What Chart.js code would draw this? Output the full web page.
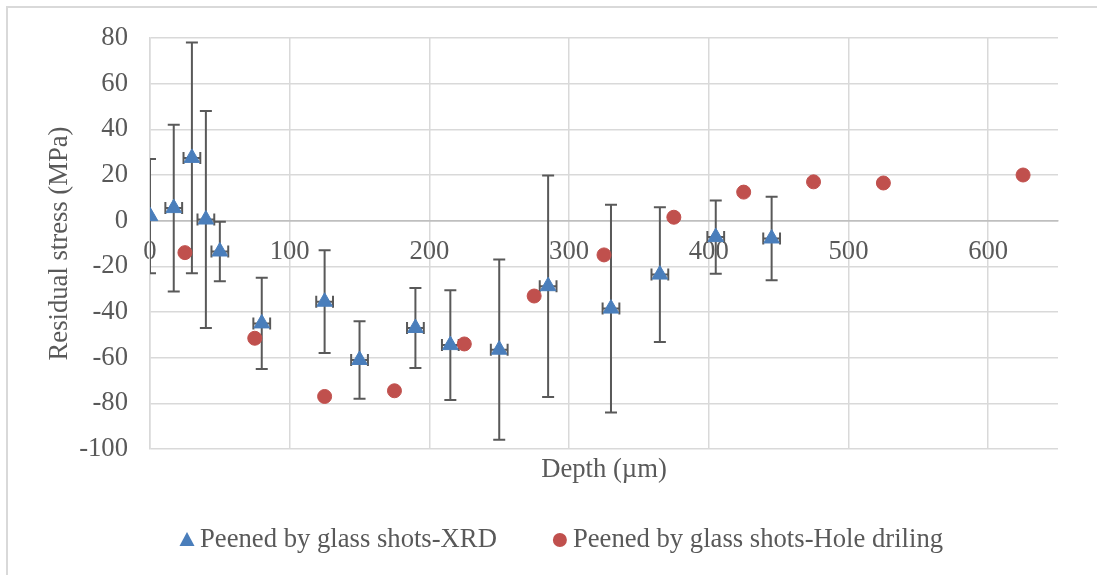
<!DOCTYPE html>
<html>
<head>
<meta charset="utf-8">
<script src="https://cdn.jsdelivr.net/npm/chart.js@4.4.1/dist/chart.umd.min.js"></script>
<style>
  body { margin: 0; background: #fff; }
  #frame {
    position: absolute; left: 6px; top: 6px; width: 1200px; height: 700px;
    border: 2px solid #d9d9d9; box-sizing: border-box;
  }
  #stressChart { position: absolute; left: 0; top: 0; }
</style>
</head>
<body>
<div id="frame"></div>
<canvas id="stressChart" width="1097" height="575"></canvas>
<script>
// XRD measurements (depth in µm, stress in MPa, +/- errors)
const depthXrd = [0, 17, 30, 40, 50, 80, 125, 150, 190, 215, 250, 285, 330, 365, 405, 445];
const stressXrd = [2, 5.5, 27.5, 0.5, -13.5, -45, -35.5, -61, -47, -54.5, -56.5, -28.7, -38.5, -23.6, -7.2, -7.8];
const stressErrXrd = [25, 36.5, 50.5, 47.5, 13, 20, 22.5, 17, 17.5, 24, 39.5, 48.5, 45.5, 29.5, 16, 18.3];
const depthErrXrd = [0, 6, 6, 6, 6, 6, 6, 6, 6, 6, 6, 6, 6, 6, 6, 6];

// hole drilling measurements
const depthHole = [25, 75, 125, 175, 225, 275, 325, 375, 425, 475, 525, 625];
const stressHole = [-14, -51.5, -77, -74.5, -54, -33, -15, 1.5, 12.5, 17, 16.5, 20];

const seriesNames = ["Peened by glass shots-XRD", "Peened by glass shots-Hole driling"];
const depthTicks = [0, 100, 200, 300, 400, 500, 600];

const textColor = "#595959";
const gridColor = "#d9d9d9";
const serif = "'Liberation Serif', 'Times New Roman', serif";
const fontSize = 26.67;

const toPoints = (xs, ys) => xs.map((x, i) => ({ x: x, y: ys[i] }));

// vertical and horizontal error bars for the XRD series
const errorBars = {
  id: "errorBars",
  beforeDatasetsDraw(chart) {
    const { ctx, chartArea, scales } = chart;
    const cap = 6;
    ctx.save();
    ctx.beginPath();
    ctx.rect(chartArea.left, chartArea.top, chartArea.right - chartArea.left, chartArea.bottom - chartArea.top);
    ctx.clip();
    ctx.strokeStyle = "#595959";
    ctx.lineWidth = 2;
    depthXrd.forEach((d, i) => {
      const px = scales.x.getPixelForValue(d);
      const py = scales.y.getPixelForValue(stressXrd[i]);
      const top = scales.y.getPixelForValue(stressXrd[i] + stressErrXrd[i]);
      const bottom = scales.y.getPixelForValue(stressXrd[i] - stressErrXrd[i]);
      ctx.beginPath();
      ctx.moveTo(px, top);
      ctx.lineTo(px, bottom);
      ctx.moveTo(px - cap, top);
      ctx.lineTo(px + cap, top);
      ctx.moveTo(px - cap, bottom);
      ctx.lineTo(px + cap, bottom);
      if (depthErrXrd[i] > 0) {
        const left = scales.x.getPixelForValue(d - depthErrXrd[i]);
        const right = scales.x.getPixelForValue(d + depthErrXrd[i]);
        ctx.moveTo(left, py);
        ctx.lineTo(right, py);
        ctx.moveTo(left, py - cap);
        ctx.lineTo(left, py + cap);
        ctx.moveTo(right, py - cap);
        ctx.lineTo(right, py + cap);
      }
      ctx.stroke();
    });
    ctx.restore();
  },
};

// legend row under the axis title
const bottomLegend = {
  id: "bottomLegend",
  afterDraw(chart) {
    const { ctx } = chart;
    const rowY = 540;
    let x = 180;
    ctx.save();
    ctx.font = `${fontSize}px ${serif}`;
    ctx.textBaseline = "middle";
    ctx.textAlign = "left";
    chart.data.datasets.forEach((ds) => {
      const cx = x + 7;
      ctx.fillStyle = ds.backgroundColor;
      ctx.beginPath();
      if (ds.pointStyle === "triangle") {
        ctx.moveTo(cx, rowY - 8);
        ctx.lineTo(cx + 7.5, rowY + 6);
        ctx.lineTo(cx - 7.5, rowY + 6);
        ctx.closePath();
      } else {
        ctx.arc(cx, rowY, 7, 0, Math.PI * 2);
      }
      ctx.fill();
      ctx.fillStyle = textColor;
      ctx.fillText(ds.label, x + 20, rowY);
      x += 20 + ctx.measureText(ds.label).width + 56;
    });
    ctx.restore();
  },
};

const ctx = document.getElementById("stressChart");

new Chart(ctx, {
  type: "scatter",
  data: {
    datasets: [
      {
        label: seriesNames[0],
        data: toPoints(depthXrd, stressXrd),
        xAxisID: "x",
        yAxisID: "y",
        pointStyle: "triangle",
        pointRadius: 9,
        pointBorderWidth: 1,
        backgroundColor: "#4a7ebb",
        borderColor: "#4a7ebb",
      },
      {
        label: seriesNames[1],
        data: toPoints(depthHole, stressHole),
        xAxisID: "x",
        yAxisID: "y",
        pointStyle: "circle",
        pointRadius: 7,
        pointBorderWidth: 1,
        backgroundColor: "#c0504d",
        borderColor: "#c0504d",
      },
    ],
  },
  options: {
    responsive: false,
    animation: false,
    layout: { padding: { top: 37, right: 39, bottom: 84, left: 0 } },
    plugins: {
      legend: { display: false },
      tooltip: { enabled: false },
    },
    scales: {
      x: {
        type: "linear",
        position: { y: 0 },
        min: 0,
        max: 650,
        afterFit: (scale) => { scale.height = 0; },
        afterBuildTicks: (scale) => { scale.ticks = depthTicks.map((v) => ({ value: v })); },
        ticks: {
          autoSkip: false,
          maxRotation: 0,
          padding: 15,
          color: textColor,
          font: { family: serif, size: fontSize },
        },
        grid: { color: gridColor, lineWidth: 1.5, drawTicks: false },
        border: { color: "#bfbfbf", width: 1.5 },
      },
      xTitle: {
        type: "linear",
        position: "bottom",
        axis: "x",
        ticks: { display: false },
        grid: { display: false, drawTicks: false },
        border: { display: false },
        title: {
          display: true,
          text: "Depth (µm)",
          color: textColor,
          padding: { top: 5, bottom: 5 },
          font: { family: serif, size: fontSize },
        },
      },
      y: {
        min: -100,
        max: 80,
        afterFit: (scale) => { scale.width = 150; },
        ticks: {
          stepSize: 20,
          autoSkip: false,
          padding: 22,
          color: textColor,
          font: { family: serif, size: fontSize },
        },
        grid: {
          color: (c) => (c.tick && c.tick.value === 0 ? "#bfbfbf" : gridColor),
          lineWidth: 1.5,
          drawTicks: false,
        },
        border: { color: gridColor, width: 1.5 },
        title: {
          display: true,
          text: "Residual stress (MPa)",
          color: textColor,
          padding: { top: 44, bottom: 0 },
          font: { family: serif, size: fontSize },
        },
      },
    },
  },
  plugins: [errorBars, bottomLegend],
});
</script>
</body>
</html>
